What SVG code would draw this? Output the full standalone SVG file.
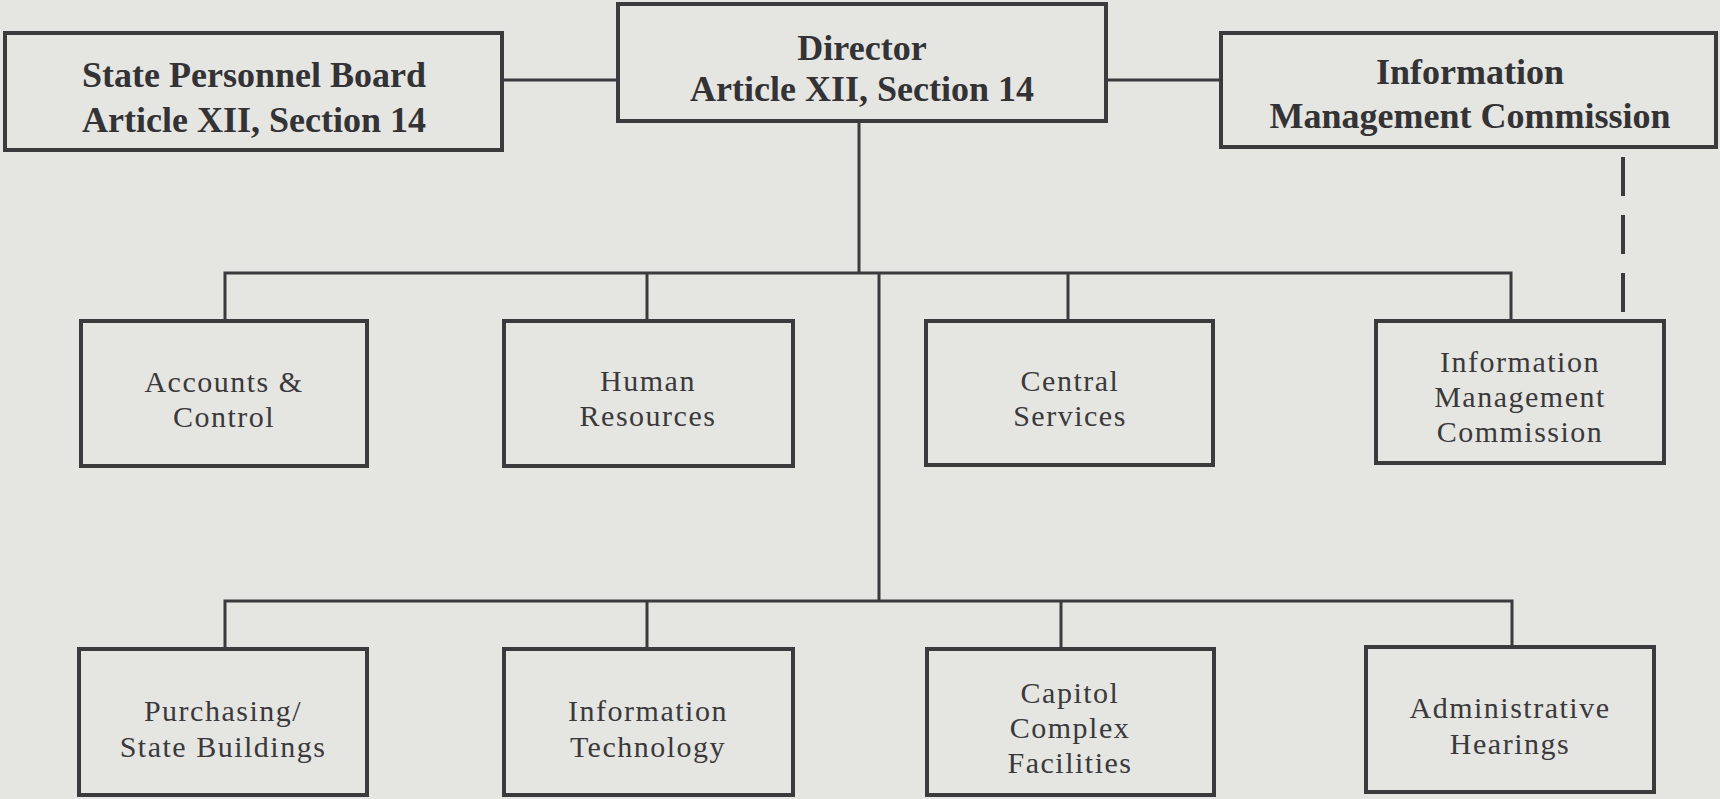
<svg xmlns="http://www.w3.org/2000/svg" width="1720" height="799" viewBox="0 0 1720 799">
<style>
.bg{fill:#e5e5e2}
.box{fill:#e5e5e2;stroke:#3b3a3c;stroke-width:4}
.line{fill:none;stroke:#3b3a3c;stroke-width:3}
.dash{fill:none;stroke:#3b3a3c;stroke-width:4;stroke-dasharray:39 19}
.t{font-family:"Liberation Serif","Times New Roman",serif;font-weight:bold;font-size:36px;fill:#333234;text-anchor:middle}
.s{font-family:"Liberation Serif","Times New Roman",serif;font-size:30px;letter-spacing:1.5px;fill:#3a393b;text-anchor:middle}
</style>
<rect class="bg" x="0" y="0" width="1720" height="799"/>
<g id="connectors">
<line class="line" x1="502" y1="80" x2="618" y2="80"/>
<line class="line" x1="1106" y1="80" x2="1221" y2="80"/>
<line class="line" x1="859" y1="121" x2="859" y2="273"/>
<polyline class="line" points="225,321 225,273 1511,273 1511,321"/>
<line class="line" x1="647" y1="273" x2="647" y2="321"/>
<line class="line" x1="1068" y1="273" x2="1068" y2="321"/>
<line class="line" x1="879" y1="273" x2="879" y2="601"/>
<polyline class="line" points="225,649 225,601 1512,601 1512,649"/>
<line class="line" x1="647" y1="601" x2="647" y2="649"/>
<line class="line" x1="1061" y1="601" x2="1061" y2="649"/>
<line class="dash" x1="1623" y1="157" x2="1623" y2="318"/>
</g>
<g id="spb">
<rect class="box" x="5" y="33" width="497" height="117"/>
<text class="t" x="254" y="87">State Personnel Board</text>
<text class="t" x="254" y="132">Article XII, Section 14</text>
</g>
<g id="director">
<rect class="box" x="618" y="4" width="488" height="117"/>
<text class="t" x="862" y="60">Director</text>
<text class="t" x="862" y="101">Article XII, Section 14</text>
</g>
<g id="imc-top">
<rect class="box" x="1221" y="33" width="495" height="114"/>
<text class="t" x="1470" y="84">Information</text>
<text class="t" x="1470" y="128">Management Commission</text>
</g>
<g id="accounts">
<rect class="box" x="81" y="321" width="286" height="145"/>
<text class="s" x="224" y="392">Accounts &amp;</text>
<text class="s" x="224" y="427">Control</text>
</g>
<g id="hr">
<rect class="box" x="504" y="321" width="289" height="145"/>
<text class="s" x="648" y="391">Human</text>
<text class="s" x="648" y="426">Resources</text>
</g>
<g id="central">
<rect class="box" x="926" y="321" width="287" height="144"/>
<text class="s" x="1070" y="391">Central</text>
<text class="s" x="1070" y="426">Services</text>
</g>
<g id="imc-sub">
<rect class="box" x="1376" y="321" width="288" height="142"/>
<text class="s" x="1520" y="372">Information</text>
<text class="s" x="1520" y="407">Management</text>
<text class="s" x="1520" y="442">Commission</text>
</g>
<g id="purchasing">
<rect class="box" x="79" y="649" width="288" height="146"/>
<text class="s" x="223" y="721">Purchasing/</text>
<text class="s" x="223" y="757">State Buildings</text>
</g>
<g id="it">
<rect class="box" x="504" y="649" width="289" height="146"/>
<text class="s" x="648" y="721">Information</text>
<text class="s" x="648" y="757">Technology</text>
</g>
<g id="capitol">
<rect class="box" x="927" y="649" width="287" height="146"/>
<text class="s" x="1070" y="703">Capitol</text>
<text class="s" x="1070" y="738">Complex</text>
<text class="s" x="1070" y="773">Facilities</text>
</g>
<g id="hearings">
<rect class="box" x="1366" y="647" width="288" height="145"/>
<text class="s" x="1510" y="718">Administrative</text>
<text class="s" x="1510" y="754">Hearings</text>
</g>
</svg>
